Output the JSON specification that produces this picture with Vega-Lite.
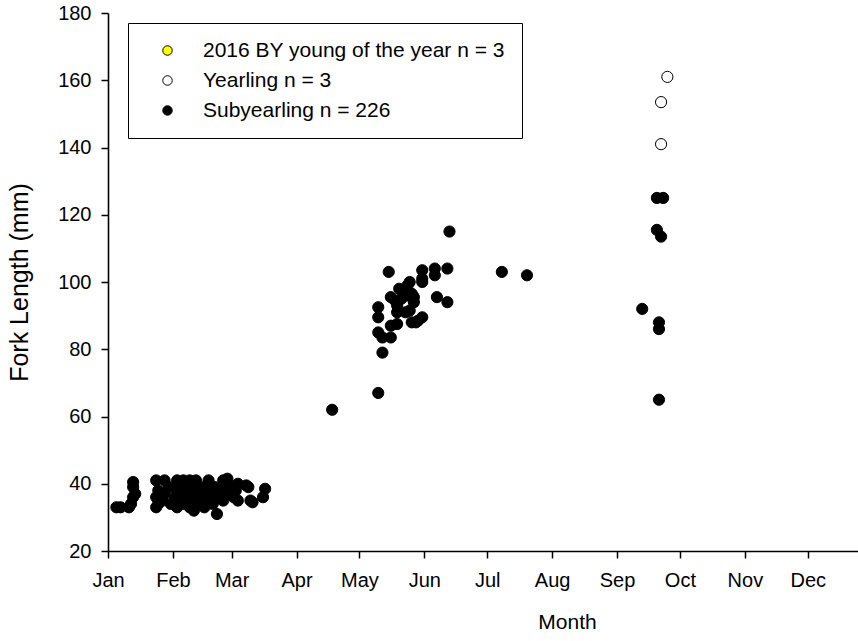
{
  "$schema": "https://vega.github.io/schema/vega-lite/v6.json",
  "description": "Fork length by capture date, subyearlings and yearlings",
  "width": 750,
  "height": 538,
  "autosize": {"type": "none"},
  "padding": {"left": 108, "top": 13, "right": 0, "bottom": 90},
  "background": "white",
  "config": {
    "view": {"stroke": null},
    "font": "Liberation Sans",
    "axis": {
      "grid": false,
      "domainColor": "black",
      "domainWidth": 1.6,
      "tickColor": "black",
      "tickWidth": 1.5,
      "tickSize": 7,
      "labelFont": "Liberation Sans",
      "labelFontSize": 20,
      "labelColor": "black",
      "titleFont": "Liberation Sans",
      "titleFontWeight": "normal",
      "titleColor": "black"
    }
  },
  "data": {
    "values": [
      {"date": "2017-01-05T00:00", "length": 33, "stage": "Subyearling n = 226"},
      {"date": "2017-01-07T00:00", "length": 33, "stage": "Subyearling n = 226"},
      {"date": "2017-01-11T00:00", "length": 33, "stage": "Subyearling n = 226"},
      {"date": "2017-01-12T00:00", "length": 34, "stage": "Subyearling n = 226"},
      {"date": "2017-01-13T00:00", "length": 36, "stage": "Subyearling n = 226"},
      {"date": "2017-01-14T00:00", "length": 37, "stage": "Subyearling n = 226"},
      {"date": "2017-01-13T00:00", "length": 39, "stage": "Subyearling n = 226"},
      {"date": "2017-01-13T00:00", "length": 40.5, "stage": "Subyearling n = 226"},
      {"date": "2017-01-24T00:00", "length": 41, "stage": "Subyearling n = 226"},
      {"date": "2017-01-28T00:00", "length": 41, "stage": "Subyearling n = 226"},
      {"date": "2017-02-03T00:00", "length": 41, "stage": "Subyearling n = 226"},
      {"date": "2017-02-06T00:00", "length": 41, "stage": "Subyearling n = 226"},
      {"date": "2017-02-09T00:00", "length": 41, "stage": "Subyearling n = 226"},
      {"date": "2017-02-12T00:00", "length": 41, "stage": "Subyearling n = 226"},
      {"date": "2017-02-18T00:00", "length": 41, "stage": "Subyearling n = 226"},
      {"date": "2017-02-25T00:00", "length": 41, "stage": "Subyearling n = 226"},
      {"date": "2017-02-27T00:00", "length": 41.5, "stage": "Subyearling n = 226"},
      {"date": "2017-02-11T00:00", "length": 40, "stage": "Subyearling n = 226"},
      {"date": "2017-02-27T00:00", "length": 40, "stage": "Subyearling n = 226"},
      {"date": "2017-03-04T00:00", "length": 40, "stage": "Subyearling n = 226"},
      {"date": "2017-01-30T00:00", "length": 39, "stage": "Subyearling n = 226"},
      {"date": "2017-02-06T00:00", "length": 39, "stage": "Subyearling n = 226"},
      {"date": "2017-02-16T00:00", "length": 39, "stage": "Subyearling n = 226"},
      {"date": "2017-02-21T00:00", "length": 39, "stage": "Subyearling n = 226"},
      {"date": "2017-03-01T00:00", "length": 39, "stage": "Subyearling n = 226"},
      {"date": "2017-03-08T00:00", "length": 39.5, "stage": "Subyearling n = 226"},
      {"date": "2017-03-09T00:00", "length": 39, "stage": "Subyearling n = 226"},
      {"date": "2017-01-25T00:00", "length": 38, "stage": "Subyearling n = 226"},
      {"date": "2017-02-03T00:00", "length": 38, "stage": "Subyearling n = 226"},
      {"date": "2017-02-10T00:00", "length": 38, "stage": "Subyearling n = 226"},
      {"date": "2017-02-14T00:00", "length": 38, "stage": "Subyearling n = 226"},
      {"date": "2017-02-24T00:00", "length": 38, "stage": "Subyearling n = 226"},
      {"date": "2017-03-03T00:00", "length": 38, "stage": "Subyearling n = 226"},
      {"date": "2017-03-17T00:00", "length": 38.5, "stage": "Subyearling n = 226"},
      {"date": "2017-01-28T00:00", "length": 37, "stage": "Subyearling n = 226"},
      {"date": "2017-02-05T00:00", "length": 37, "stage": "Subyearling n = 226"},
      {"date": "2017-02-13T00:00", "length": 37, "stage": "Subyearling n = 226"},
      {"date": "2017-02-19T00:00", "length": 37, "stage": "Subyearling n = 226"},
      {"date": "2017-02-28T00:00", "length": 37, "stage": "Subyearling n = 226"},
      {"date": "2017-01-24T00:00", "length": 36, "stage": "Subyearling n = 226"},
      {"date": "2017-02-02T00:00", "length": 36, "stage": "Subyearling n = 226"},
      {"date": "2017-02-08T00:00", "length": 36, "stage": "Subyearling n = 226"},
      {"date": "2017-02-15T00:00", "length": 36, "stage": "Subyearling n = 226"},
      {"date": "2017-02-22T00:00", "length": 36, "stage": "Subyearling n = 226"},
      {"date": "2017-03-02T00:00", "length": 36, "stage": "Subyearling n = 226"},
      {"date": "2017-03-16T00:00", "length": 36, "stage": "Subyearling n = 226"},
      {"date": "2017-01-27T00:00", "length": 35, "stage": "Subyearling n = 226"},
      {"date": "2017-02-04T00:00", "length": 35, "stage": "Subyearling n = 226"},
      {"date": "2017-02-11T00:00", "length": 35, "stage": "Subyearling n = 226"},
      {"date": "2017-02-17T00:00", "length": 35, "stage": "Subyearling n = 226"},
      {"date": "2017-02-25T00:00", "length": 35, "stage": "Subyearling n = 226"},
      {"date": "2017-03-04T00:00", "length": 35, "stage": "Subyearling n = 226"},
      {"date": "2017-03-10T00:00", "length": 35, "stage": "Subyearling n = 226"},
      {"date": "2017-01-25T00:00", "length": 34, "stage": "Subyearling n = 226"},
      {"date": "2017-01-31T00:00", "length": 34, "stage": "Subyearling n = 226"},
      {"date": "2017-02-06T00:00", "length": 34, "stage": "Subyearling n = 226"},
      {"date": "2017-02-14T00:00", "length": 34, "stage": "Subyearling n = 226"},
      {"date": "2017-02-20T00:00", "length": 34, "stage": "Subyearling n = 226"},
      {"date": "2017-03-11T00:00", "length": 34.5, "stage": "Subyearling n = 226"},
      {"date": "2017-01-24T00:00", "length": 33, "stage": "Subyearling n = 226"},
      {"date": "2017-02-03T00:00", "length": 33, "stage": "Subyearling n = 226"},
      {"date": "2017-02-09T00:00", "length": 33, "stage": "Subyearling n = 226"},
      {"date": "2017-02-16T00:00", "length": 33, "stage": "Subyearling n = 226"},
      {"date": "2017-02-11T00:00", "length": 32, "stage": "Subyearling n = 226"},
      {"date": "2017-02-22T00:00", "length": 31, "stage": "Subyearling n = 226"},
      {"date": "2017-04-18T00:00", "length": 62, "stage": "Subyearling n = 226"},
      {"date": "2017-05-10T00:00", "length": 67, "stage": "Subyearling n = 226"},
      {"date": "2017-05-15T00:00", "length": 103, "stage": "Subyearling n = 226"},
      {"date": "2017-05-31T00:00", "length": 103.5, "stage": "Subyearling n = 226"},
      {"date": "2017-05-31T00:00", "length": 101, "stage": "Subyearling n = 226"},
      {"date": "2017-06-06T00:00", "length": 104, "stage": "Subyearling n = 226"},
      {"date": "2017-06-06T00:00", "length": 102, "stage": "Subyearling n = 226"},
      {"date": "2017-06-12T00:00", "length": 104, "stage": "Subyearling n = 226"},
      {"date": "2017-06-13T00:00", "length": 115, "stage": "Subyearling n = 226"},
      {"date": "2017-05-24T00:00", "length": 99, "stage": "Subyearling n = 226"},
      {"date": "2017-05-25T00:00", "length": 100, "stage": "Subyearling n = 226"},
      {"date": "2017-05-31T00:00", "length": 100, "stage": "Subyearling n = 226"},
      {"date": "2017-05-22T00:00", "length": 97, "stage": "Subyearling n = 226"},
      {"date": "2017-05-20T00:00", "length": 98, "stage": "Subyearling n = 226"},
      {"date": "2017-05-26T00:00", "length": 96.5, "stage": "Subyearling n = 226"},
      {"date": "2017-05-24T00:00", "length": 96, "stage": "Subyearling n = 226"},
      {"date": "2017-05-16T00:00", "length": 95.5, "stage": "Subyearling n = 226"},
      {"date": "2017-05-27T00:00", "length": 95.5, "stage": "Subyearling n = 226"},
      {"date": "2017-05-21T00:00", "length": 95, "stage": "Subyearling n = 226"},
      {"date": "2017-06-07T00:00", "length": 95.5, "stage": "Subyearling n = 226"},
      {"date": "2017-06-12T00:00", "length": 94, "stage": "Subyearling n = 226"},
      {"date": "2017-05-27T00:00", "length": 94, "stage": "Subyearling n = 226"},
      {"date": "2017-05-18T00:00", "length": 94.5, "stage": "Subyearling n = 226"},
      {"date": "2017-05-10T00:00", "length": 92.5, "stage": "Subyearling n = 226"},
      {"date": "2017-05-19T00:00", "length": 93, "stage": "Subyearling n = 226"},
      {"date": "2017-05-25T00:00", "length": 91.5, "stage": "Subyearling n = 226"},
      {"date": "2017-05-19T00:00", "length": 91, "stage": "Subyearling n = 226"},
      {"date": "2017-05-23T00:00", "length": 91, "stage": "Subyearling n = 226"},
      {"date": "2017-05-10T00:00", "length": 89.5, "stage": "Subyearling n = 226"},
      {"date": "2017-05-16T00:00", "length": 87, "stage": "Subyearling n = 226"},
      {"date": "2017-05-19T00:00", "length": 87.5, "stage": "Subyearling n = 226"},
      {"date": "2017-05-29T00:00", "length": 88.5, "stage": "Subyearling n = 226"},
      {"date": "2017-05-31T00:00", "length": 89.5, "stage": "Subyearling n = 226"},
      {"date": "2017-05-26T00:00", "length": 88, "stage": "Subyearling n = 226"},
      {"date": "2017-05-28T00:00", "length": 88, "stage": "Subyearling n = 226"},
      {"date": "2017-05-10T00:00", "length": 85, "stage": "Subyearling n = 226"},
      {"date": "2017-05-12T00:00", "length": 83.5, "stage": "Subyearling n = 226"},
      {"date": "2017-05-16T00:00", "length": 83.5, "stage": "Subyearling n = 226"},
      {"date": "2017-05-12T00:00", "length": 79, "stage": "Subyearling n = 226"},
      {"date": "2017-07-08T00:00", "length": 103, "stage": "Subyearling n = 226"},
      {"date": "2017-07-20T00:00", "length": 102, "stage": "Subyearling n = 226"},
      {"date": "2017-09-13T00:00", "length": 92, "stage": "Subyearling n = 226"},
      {"date": "2017-09-20T00:00", "length": 125, "stage": "Subyearling n = 226"},
      {"date": "2017-09-23T00:00", "length": 125, "stage": "Subyearling n = 226"},
      {"date": "2017-09-20T00:00", "length": 115.5, "stage": "Subyearling n = 226"},
      {"date": "2017-09-22T00:00", "length": 113.5, "stage": "Subyearling n = 226"},
      {"date": "2017-09-21T00:00", "length": 88, "stage": "Subyearling n = 226"},
      {"date": "2017-09-21T00:00", "length": 86, "stage": "Subyearling n = 226"},
      {"date": "2017-09-21T00:00", "length": 65, "stage": "Subyearling n = 226"},
      {"date": "2017-09-25T00:00", "length": 161, "stage": "Yearling n = 3"},
      {"date": "2017-09-22T00:00", "length": 153.5, "stage": "Yearling n = 3"},
      {"date": "2017-09-22T00:00", "length": 141, "stage": "Yearling n = 3"}
    ]
  },
  "mark": {
    "type": "point",
    "shape": "circle",
    "filled": true,
    "size": 125,
    "stroke": "black",
    "strokeWidth": 1,
    "opacity": 1
  },
  "encoding": {
    "x": {
      "field": "date",
      "type": "temporal",
      "scale": {
        "domain": [
          {"year": 2017, "month": 1, "date": 1},
          {"year": 2017, "month": 12, "date": 25}
        ]
      },
      "axis": {
        "title": "Month",
        "format": "%b",
        "tickCount": {"interval": "month", "step": 1},
        "labelFlush": false,
        "labelOverlap": false,
        "labelPadding": 12,
        "titleFontSize": 21,
        "titleX": 459,
        "titlePadding": 21
      }
    },
    "y": {
      "field": "length",
      "type": "quantitative",
      "scale": {"domain": [20, 180], "nice": false, "zero": false},
      "axis": {
        "title": "Fork Length (mm)",
        "values": [20, 40, 60, 80, 100, 120, 140, 160, 180],
        "labelPadding": 10,
        "titleFontSize": 25,
        "titlePadding": 25
      }
    },
    "fill": {
      "field": "stage",
      "type": "nominal",
      "scale": {
        "domain": ["2016 BY young of the year n = 3", "Yearling n = 3", "Subyearling n = 226"],
        "range": ["#ffff00", "#ffffff", "#000000"]
      },
      "legend": {
        "title": null,
        "orient": "none",
        "legendX": 20,
        "legendY": 10,
        "strokeColor": "black",
        "fillColor": "white",
        "padding": 17,
        "symbolType": "circle",
        "symbolSize": 90,
        "symbolStrokeColor": "black",
        "symbolStrokeWidth": 1,
        "symbolOpacity": 1,
        "symbolOffset": 12,
        "labelOffset": 25,
        "labelFontSize": 21,
        "labelColor": "black",
        "labelLimit": 400,
        "rowPadding": 8
      }
    }
  }
}
